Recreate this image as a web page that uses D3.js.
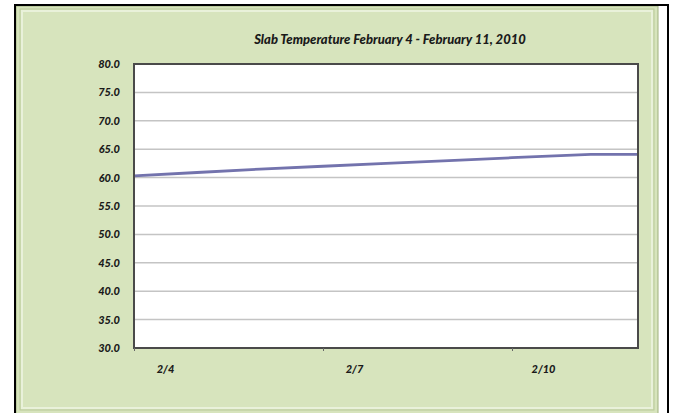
<!DOCTYPE html>
<meta charset="utf-8">
<style>
    body { margin: 0; background: #fff; }
    text { font-family: Lato, "Open Sans", sans-serif; font-weight: 900; font-style: italic; fill: #1a1a1a; }
    .grid line { stroke: #c4c4c4; stroke-width: 1.5; }
    .axis path { display: none; }
    .axis line { stroke: #666; }
    .temp { fill: none; stroke: #7373ad; stroke-width: 2.8; }
</style>
<body>
<script src="https://d3js.org/d3.v7.min.js"></script>
<script>

    // readings (date-time, slab temperature)
    var times = ["2010-02-04 00:00", "2010-02-05 00:00", "2010-02-06 00:00", "2010-02-07 00:00",
                 "2010-02-08 00:00", "2010-02-09 00:00", "2010-02-10 00:00", "2010-02-11 06:00",
                 "2010-02-12 00:00"];
    var temps = [60.3, 60.9, 61.5, 62.0, 62.5, 63.0, 63.5, 64.1, 64.1];
    var yTicks = [30, 35, 40, 45, 50, 55, 60, 65, 70, 75, 80];
    var xLabels = ["2010-02-04", "2010-02-07", "2010-02-10"];
    var title = "Slab Temperature February 4 - February 11, 2010";

    var parseTime = d3.timeParse("%Y-%m-%d %H:%M");
    var parseDate = d3.timeParse("%Y-%m-%d");
    var data = times.map(function(t, i) { return {date: parseTime(t), temp: temps[i]}; });

    var svg = d3.select("body").append("svg")
        .attr("width", 675)
        .attr("height", 413);

    // frame
    svg.append("rect").attr("x", 16).attr("y", 6).attr("width", 642).attr("height", 410)
        .attr("fill", "#d7e4bd").attr("stroke", "#9fb07f").attr("stroke-width", 1);
    svg.append("rect").attr("x", 22).attr("y", 11).attr("width", 630).attr("height", 397)
        .attr("fill", "none").attr("stroke", "#e9f1da").attr("stroke-width", 2);
    svg.append("rect").attr("x", 20).attr("y", 9).attr("width", 634).attr("height", 401)
        .attr("fill", "none").attr("stroke", "#b9c99a").attr("stroke-width", 1);
    svg.append("path").attr("d", "M15,414V5H668V414")
        .attr("fill", "none").attr("stroke", "#000").attr("stroke-width", 2);

    var margin = {left: 134, top: 64},
        width = 504, height = 284;

    var x = d3.scaleTime()
        .domain([parseDate("2010-02-04"), parseDate("2010-02-12")])
        .range([0, width]);

    var y = d3.scaleLinear()
        .domain([30, 80])
        .range([height, 0]);

    var g = svg.append("g")
        .attr("transform", "translate(" + margin.left + "," + margin.top + ")");

    g.append("rect").attr("width", width).attr("height", height).attr("fill", "#fff");

    g.append("g").attr("class", "grid")
        .selectAll("line").data(yTicks.slice(1, -1)).enter().append("line")
        .attr("x1", 0).attr("x2", width)
        .attr("y1", function(d) { return y(d); })
        .attr("y2", function(d) { return y(d); });

    var line = d3.line()
        .x(function(d) { return x(d.date); })
        .y(function(d) { return y(d.temp); });

    g.append("path").datum(data).attr("class", "temp").attr("d", line);

    // plot border
    g.append("rect").attr("width", width).attr("height", height)
        .attr("fill", "none").attr("stroke", "#4a4a4a").attr("stroke-width", 2);

    // y axis labels
    g.append("g").attr("class", "axis")
        .call(d3.axisLeft(y).tickValues(yTicks).tickFormat(d3.format(".1f")).tickSize(0).tickPadding(14))
        .selectAll("text").style("font-size", "11px");

    // x axis: tick marks every 3 days, labels centred in the day
    var tickDays = xLabels.map(parseDate);
    g.append("g").attr("class", "axis")
        .attr("transform", "translate(0," + height + ")")
        .call(d3.axisBottom(x).tickValues(tickDays).tickSize(3).tickFormat(""));

    g.append("g").selectAll("text").data(tickDays).enter().append("text")
        .attr("x", function(d) { return (x(d) + x(d3.timeDay.offset(d, 1))) / 2; })
        .attr("y", height + 25)
        .attr("text-anchor", "middle")
        .style("font-size", "11px")
        .text(d3.timeFormat("%-m/%-d"));

    svg.append("text")
        .attr("x", 390).attr("y", 44)
        .attr("text-anchor", "middle")
        .style("font-size", "13px")
        .text(title);

</script>
